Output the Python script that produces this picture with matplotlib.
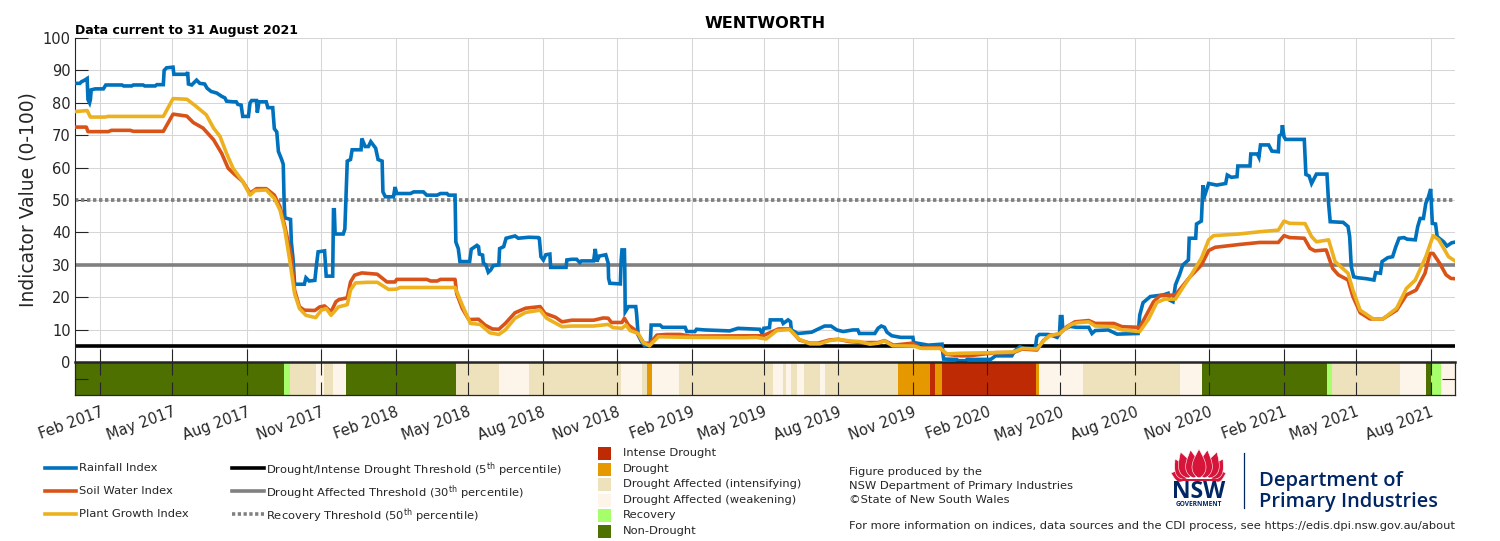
import numpy as np
import matplotlib
matplotlib.use("Agg")
import matplotlib.pyplot as plt
from matplotlib.patches import Polygon, Rectangle
from datetime import date

plt.rcParams["font.family"] = "DejaVu Sans"
plt.rcParams["mathtext.default"] = "regular"

# Days since 1 January 2017
rain_days = [0,6,8,12,15,16,18,19,20,25,35,38,58,60,70,72,84,86,99,101,109,110,113,121,122,138,139,140,144,150,154,160,163,168,175,181,185,187,195,199,201,205,207,214,216,218,224,225,227,236,238,244,246,249,251,255,257,258,259,266,267,269,271,283,285,289,296,298,300,308,310,318,319,320,321,331,333,336,340,342,353,354,358,362,365,371,374,379,380,383,393,395,397,414,418,430,434,447,451,459,461,469,470,473,475,487,489,496,498,499,503,504,507,510,513,516,523,524,529,532,543,547,560,572,573,575,578,581,586,587,606,607,613,619,623,625,640,642,644,647,655,658,658.5,660,673,674,675,678,678.5,679,683,692,693,695,699,703,710,711,722,725,753,755,765,767,777,808,818,845,848,850,857,858,872,874,880,883,884,892,909,919,925,933,940,948,960,966,968,987,991,995,999,1002,1008,1019,1034,1035,1053,1070,1071,1072,1088,1090,1099,1101,1130,1136,1156,1160,1166,1171,1185,1187,1190,1201,1208,1212,1215,1216,1218,1219,1228,1236,1251,1255,1259,1275,1286,1312,1314,1318,1327,1343,1349,1351,1355,1358,1363,1367,1374,1375,1383,1384,1390,1392,1393,1399,1409,1420,1422,1427,1434,1435,1450,1451,1459,1461,1463,1473,1477,1485,1486,1489,1490,1492,1494,1517,1519,1523,1526,1532,1545,1547,1549,1565,1571,1573,1575,1578,1583,1594,1603,1605,1611,1613,1620,1626,1630,1634,1640,1644,1654,1657,1660,1664,1667,1670,1673,1675,1679,1681,1689,1693,1699,1703]
rain_values = [86,86,86.5,87,87.5,81,80,81,84,84.3,84.3,85.5,85.5,85.2,85.2,85.5,85.5,85.2,85.2,85.6,85.6,90,90.8,91,88.8,88.8,89.5,85.8,85.5,87,86,85.8,84.5,83.5,83,82,81.5,80.5,80.3,80.3,79.5,79.3,75.8,75.8,80,80.7,80.7,77,80.3,80.3,78.5,78.5,72,71,65,62.5,61,50,44.5,44,37,32,24,24,26,25,25.2,30,34,34.3,26.5,26.5,47,47,39.5,39.5,41,62,62.5,65.5,65.5,69,66.5,66.5,68,66,62.5,62,52.5,51,51,54,52,52,52.5,52.5,51.5,51.5,52,52,51.5,51.5,37,35,31,31,34.8,36,35.6,33.3,33,30.5,30,27.7,28.4,29.7,30,35,35.6,38.2,38.9,38.2,38.5,38.4,38.2,32.5,31.5,33.1,33.3,29.2,29.2,31.5,31.7,31.7,30.7,31.2,31.2,34.9,31,32.7,33.1,30.5,25.8,24.3,24.1,31.5,34.6,34.6,28.4,15.5,17.1,17.1,15,8.3,6.3,5,5.8,11.4,11.4,10.7,10.7,9.4,9.4,10.1,9.9,9.6,10.4,10.1,8.8,10.4,10.6,13,13,11.9,13,12.4,9.9,8.8,9.2,10.4,11.1,11.1,9.9,9.4,9.9,9.9,8.8,8.8,10.4,11.1,10.7,9.2,8.1,7.6,7.6,6,5.2,5.5,2.7,0.9,0.8,0.4,0.4,0.8,0.8,1.9,1.9,3.5,4.7,4.2,4.2,7.8,8.5,8.5,8,7.6,8.8,14,14,9.9,11,10.7,10.7,8.8,9.7,9.9,8.6,8.8,14.5,18.3,20.2,20.7,21.2,19.1,18.6,23.8,26.9,29.9,31.5,38.2,38.2,42.6,43.5,54.6,50.5,55.1,54.6,55.1,57.7,57,57.2,60.5,60.5,64.2,64.2,63.2,67,67,65.1,64.9,69.8,70.3,73.1,69.5,68.7,68.7,57.9,57.4,55.1,58,58,49,43.3,43.1,41.8,38.7,29.4,26.3,26,25.7,25.3,27.6,27.4,31,32.2,32.5,35.6,38.2,38.4,37.9,37.7,41.8,44.3,44.3,49,50.8,53.4,42.8,42.6,38.7,37.1,35.8,36.8,37]

soil_days = [0,14,16,41,45,68,72,109,121,138,146,158,171,181,189,197,207,216,224,236,246,253,259,267,271,277,283,296,302,308,316,322,326,336,340,345,354,373,385,395,397,434,439,447,451,469,471,478,486,498,506,515,523,531,543,556,574,580,593,601,613,640,652,658,662,675,678,683,691,697,702,710,718,730,747,759,849,857,868,882,894,907,917,931,942,956,972,991,999,1010,1033,1043,1068,1074,1093,1103,1136,1158,1169,1187,1195,1203,1214,1224,1234,1251,1259,1282,1292,1314,1321,1331,1339,1358,1368,1376,1390,1399,1407,1438,1462,1485,1492,1499,1517,1524,1530,1544,1552,1559,1571,1577,1586,1598,1614,1631,1643,1655,1666,1672,1676,1684,1692,1698,1703]
soil_values = [72.5,72.5,71.1,71.1,71.5,71.5,71.2,71.2,76.5,75.9,73.9,72.2,68.6,64.4,59.8,57.9,55.7,52.1,53.5,53.5,51.5,47.9,41.8,32.5,22.2,17,16,15.9,17,17.3,15.5,18.6,19.3,19.8,24.7,26.8,27.5,27.1,24.7,24.7,25.5,25.5,25,25,25.5,25.5,21.1,16.5,13.1,13.2,11.4,10.2,10.1,11.9,15.2,16.6,17.1,15,13.8,12.4,12.9,12.9,13.6,13.5,12.2,12.2,13.5,11.4,9.9,7.8,5.8,5.8,8.3,8.5,8.5,8,8.1,9,10.2,10.2,6.8,5.8,5.8,6.8,7,6.3,6,6,6.6,5.2,5.8,4.4,4.4,2.4,1.9,1.9,2.9,2.9,4,3.7,6.6,8.3,8.5,10.9,12.4,12.8,11.9,11.9,10.9,10.7,14,18.6,20.5,20.7,23.8,26.3,29.9,34.4,35.4,36.3,36.9,36.9,39,38.4,38.2,35.1,34.3,34.6,28.9,26.9,25.3,20.2,15.2,13.3,13.3,16,20.7,22.2,27.4,33.5,33.5,30.5,26.9,25.8,25.7]

plant_days = [0,15,19,37,41,109,121,138,148,162,171,179,187,195,207,216,222,236,246,253,259,265,271,277,285,297,304,310,316,325,336,340,346,361,373,387,397,401,469,478,488,500,512,523,531,543,556,574,582,601,613,640,658,664,675,680,685,695,701,709,714,720,759,825,841,853,866,882,894,907,919,931,942,956,968,981,991,999,1009,1035,1045,1068,1076,1093,1136,1158,1169,1187,1197,1203,1215,1228,1236,1251,1259,1282,1292,1314,1325,1335,1345,1358,1368,1376,1390,1399,1405,1436,1462,1485,1492,1499,1518,1526,1532,1547,1555,1571,1577,1586,1602,1614,1631,1643,1654,1667,1676,1683,1695,1703]
plant_values = [77.3,77.6,75.6,75.6,75.8,75.8,81.3,81.1,79.2,76.3,72.2,69.6,64.4,59.8,55.7,51.5,52.9,53.1,50.5,46.9,40.7,31.4,21.1,16.5,14.4,13.7,16,16.5,14.4,17,17.7,22.2,24.4,24.6,24.6,22.4,22.5,23,23,17.5,11.9,11.6,9,8.5,9.9,13.5,15.3,16,13.5,10.9,11.1,11.1,11.6,10.6,10.4,11.4,9.7,8.8,6,5,6.3,7.8,7.6,7.5,7.6,7.1,9.7,10,7,5.6,5.6,6.6,7,6.5,6.3,5.5,5.8,6.5,5,4.9,4.2,4.2,2.5,2.7,2.9,3.1,4.2,4,7,8.1,8.8,11.4,12.1,12.4,11.1,10.9,9.9,9.4,13.3,18.4,19.4,19.4,23.3,26.3,32,37.7,39,39.5,40.2,40.7,43.5,42.8,42.7,38.7,37.1,37.7,31,27.4,22.2,16,13.3,13.3,16.6,22.7,25.3,32.5,39,37.7,32.5,31.2]

# Drought category of each period: start day and category name
category_starts = [0,258,265,297,307,318,334,470,523,560,674,700,706,712,745,861,874,877,884,891,900,919,926,1016,1055,1061,1070,1186,1190,1244,1364,1391,1545,1551,1635,1667,1673,1686]
category_names = ["non","rec","int","weak","int","weak","non","int","weak","int","weak","int","dro","weak","int","weak","int","weak","int","weak","int","weak","int","dro","intense","dro","intense","dro","weak","int","weak","non","rec","int","weak","non","rec","weak"]
last_day = 1703

category_colours = {"intense": "#BD2A04", "dro": "#E59800", "int": "#EEE2BC",
                    "weak": "#FEF5EA", "rec": "#A5FE6A", "non": "#4D7000"}
category_labels = [("intense", "Intense Drought"), ("dro", "Drought"),
                   ("int", "Drought Affected (intensifying)"),
                   ("weak", "Drought Affected (weakening)"),
                   ("rec", "Recovery"), ("non", "Non-Drought")]

tick_months = [(2017,2),(2017,5),(2017,8),(2017,11),(2018,2),(2018,5),(2018,8),(2018,11),
               (2019,2),(2019,5),(2019,8),(2019,11),(2020,2),(2020,5),(2020,8),(2020,11),
               (2021,2),(2021,5),(2021,8)]
month_names = {2: "Feb", 5: "May", 8: "Aug", 11: "Nov"}
tick_days = [(date(y, m, 1) - date(2017, 1, 1)).days for y, m in tick_months]
tick_labels = [f"{month_names[m]} {y}" for y, m in tick_months]

rain_colour, soil_colour, plant_colour = "#0072BD", "#D95319", "#EDB120"
ink = "#262626"
W, H = 1500, 541


def box(left, top, right, bottom):
    return [left / W, 1 - bottom / H, (right - left) / W, (bottom - top) / H]


fig = plt.figure(figsize=(W / 100, H / 100), dpi=100, facecolor="white")

# Index panel
ax = fig.add_axes(box(75, 38, 1455, 362))
ax.set_xlim(0, last_day)
ax.set_ylim(0, 100)
ax.set_axisbelow(True)
ax.grid(True, color="#D6D6D6", lw=0.75)
for side in ("top", "right", "bottom"):
    ax.spines[side].set_visible(False)
ax.spines["left"].set_color(ink)
ax.spines["left"].set_linewidth(0.8)
ax.set_xticks(tick_days)
ax.set_xticklabels([])
ax.set_yticks(np.arange(0, 101, 10))
ax.tick_params(axis="both", direction="in", length=9.4, width=0.8, color=ink,
               labelcolor=ink, labelsize=10.5, pad=3)
ax.set_ylabel("Indicator Value (0-100)", fontsize=13.5, color=ink, labelpad=4)

line_width = 2.6
ax.axhline(5, color="black", lw=2.6, zorder=2)
ax.axhline(30, color="#808080", lw=2.6, zorder=2)
ax.axhline(50, color="#808080", lw=2.7, zorder=2, dashes=(0.9, 0.7))
ax.plot(rain_days, rain_values, color=rain_colour, lw=line_width, zorder=3, solid_joinstyle="miter")
ax.plot(soil_days, soil_values, color=soil_colour, lw=line_width, zorder=4)
ax.plot(plant_days, plant_values, color=plant_colour, lw=line_width, zorder=5)

# Category strip
strip = fig.add_axes(box(75, 362, 1455, 395))
strip.set_xlim(0, last_day)
strip.set_ylim(-10, 0)
ends = category_starts[1:] + [last_day]
for start, end, name in zip(category_starts, ends, category_names):
    strip.bar(start, -10, width=end - start, align="edge",
              color=category_colours[name], lw=0, zorder=1)
for spine in strip.spines.values():
    spine.set_color(ink)
    spine.set_linewidth(0.9)
    spine.set_zorder(5)
strip.spines["top"].set_linewidth(1.8)
strip.set_xticks(tick_days)
strip.set_xticklabels(tick_labels, rotation=20, ha="right", rotation_mode="anchor")
strip.set_yticks([-5])
strip.set_yticklabels([])
strip.tick_params(axis="x", direction="in", length=9.4, width=0.8, color=ink, top=True,
                  labelcolor=ink, labelsize=10.5, pad=7, zorder=6)
strip.tick_params(axis="y", direction="in", length=9.4, width=0.8, color=ink, right=True)

# Page furniture is placed on a full-figure layer measured in pixels
page = fig.add_axes([0, 0, 1, 1], facecolor="none")
page.set_xlim(0, W)
page.set_ylim(H, 0)
page.axis("off")

page.text(765, 24, "WENTWORTH", fontsize=11.6, fontweight="bold", ha="center", va="center", color="black")
page.text(75, 30.5, "Data current to 31 August 2021", fontsize=9.0, fontweight="bold", ha="left", va="center", color="black")

legend_size = 8.25
for y, colour, label in [(468, rain_colour, "Rainfall Index"), (491, soil_colour, "Soil Water Index"),
                         (514, plant_colour, "Plant Growth Index")]:
    page.plot([45, 76], [y, y], color=colour, lw=2.6)
    page.text(79, y, label, fontsize=legend_size, va="center", color=ink)

threshold_rows = [(468, "black", "-", "Drought/Intense Drought Threshold (5$^{th}$ percentile)"),
                  (491, "#808080", "-", "Drought Affected Threshold (30$^{th}$ percentile)"),
                  (514, "#808080", (0, (0.9, 0.7)), "Recovery Threshold (50$^{th}$ percentile)")]
for y, colour, style, label in threshold_rows:
    page.plot([232, 264], [y, y], color=colour, lw=2.6, ls=style)
    page.text(266, y + 2, label, fontsize=legend_size, va="center", color=ink)

for y, (key, label) in zip([453, 469, 484, 500, 515, 531], category_labels):
    page.add_patch(Rectangle((598, y - 6.5), 13, 13, color=category_colours[key], lw=0))
    page.text(623, y, label, fontsize=legend_size, va="center", color=ink)

for y, line in [(472, "Figure produced by the"), (486, "NSW Department of Primary Industries"),
                (500, "©State of New South Wales")]:
    page.text(849, y, line, fontsize=legend_size, va="center", color=ink)
page.text(849, 526, "For more information on indices, data sources and the CDI process, see https://edis.dpi.nsw.gov.au/about",
          fontsize=legend_size, va="center", color=ink)

# NSW Government waratah emblem
red, navy = "#D7153A", "#002664"
petals = [((1186, 478), (1171, 473), 12), ((1212, 478), (1226, 473), 12),
          ((1186, 479), (1175, 459), 13), ((1212, 479), (1223, 459), 13),
          ((1189, 478), (1180.5, 452), 14), ((1209, 478), (1217, 452), 14),
          ((1194, 478), (1190.5, 450), 14), ((1204, 478), (1207.5, 450), 14),
          ((1199, 478), (1199, 449), 14)]
t = np.linspace(0, 1, 30)
for base, tip, width in petals:
    base, tip = np.array(base, float), np.array(tip, float)
    along = tip - base
    normal = np.array([-along[1], along[0]]) / np.hypot(*along)
    half = width / 2 * np.sin(np.pi * t ** 0.7)
    outline = np.r_[base + np.outer(t, along) + np.outer(half, normal),
                    (base + np.outer(t, along) - np.outer(half, normal))[::-1]]
    page.add_patch(Polygon(outline, closed=True, facecolor=red, edgecolor="white", lw=0.4))
page.add_patch(Rectangle((1182, 479), 35, 2.2, color=red, lw=0))
page.text(1199, 492, "NSW", fontsize=16.5, fontweight="bold", color=navy, ha="center", va="center",
          family="Open Sans")
page.text(1198.5, 505, "GOVERNMENT", fontsize=4.7, fontweight="bold", color=navy, ha="center", va="center",
          family="Open Sans")
page.plot([1243.5, 1243.5], [453, 508], color=navy, lw=0.9)
page.text(1259, 481, "Department of", fontsize=14.5, fontweight="semibold", color=navy, va="center", family="Open Sans")
page.text(1259, 501.5, "Primary Industries", fontsize=14.4, fontweight="semibold", color=navy, va="center", family="Open Sans")

fig.savefig("out.png", dpi=100)
